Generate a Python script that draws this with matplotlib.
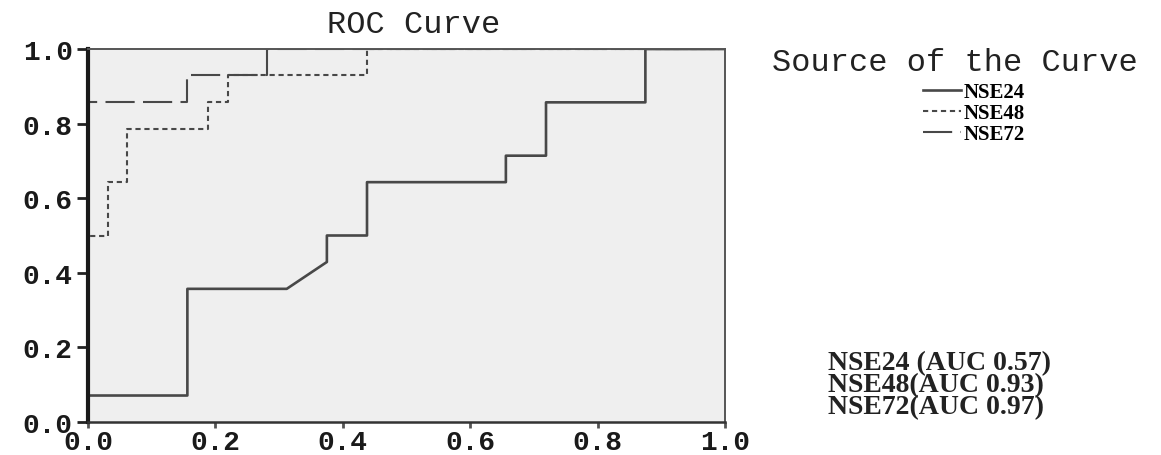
import matplotlib
matplotlib.use('Agg')
import matplotlib.pyplot as plt
from matplotlib.ticker import FormatStrFormatter

# ROC points (1 - specificity, sensitivity)
fpr24 = [0, 0, 0.156, 0.156, 0.312, 0.375, 0.375, 0.438, 0.438, 0.656, 0.656, 0.719, 0.719, 0.875, 0.875, 1.0]
tpr24 = [0, 0.071, 0.071, 0.357, 0.357, 0.429, 0.5, 0.5, 0.643, 0.643, 0.714, 0.714, 0.857, 0.857, 1.0, 1.0]

fpr48 = [0, 0, 0.031, 0.031, 0.062, 0.062, 0.188, 0.188, 0.219, 0.219, 0.438, 0.438, 1.0]
tpr48 = [0, 0.5, 0.5, 0.643, 0.643, 0.786, 0.786, 0.857, 0.857, 0.929, 0.929, 1.0, 1.0]

fpr72 = [0, 0, 0.156, 0.156, 0.281, 0.281, 1.0]
tpr72 = [0, 0.857, 0.857, 0.929, 0.929, 1.0, 1.0]

names = ['NSE24', 'NSE48', 'NSE72']
auc_labels = ['NSE24 (AUC 0.57)', 'NSE48(AUC 0.93)', 'NSE72(AUC 0.97)']
ticks = [0.0, 0.2, 0.4, 0.6, 0.8, 1.0]

W, H = 1161, 456
fig = plt.figure(figsize=(W / 100, H / 100), dpi=100)
ax = fig.add_axes([88 / W, 33 / H, 637 / W, 373 / H])
ax.set_facecolor('#efefef')

line_col = '#484848'
ax.plot(fpr24, tpr24, color=line_col, lw=1.9, label=names[0])
ax.plot(fpr48, tpr48, color=line_col, lw=1.5, linestyle=(0, (2.5, 1.8)), label=names[1])
ax.plot(fpr72, tpr72, color=line_col, lw=1.5, linestyle=(0, (14, 4)), label=names[2])

ax.set_xlim(0, 1)
ax.set_ylim(0, 1)
ax.set_xticks(ticks)
ax.set_yticks(ticks)
ax.xaxis.set_major_formatter(FormatStrFormatter('%.1f'))
ax.yaxis.set_major_formatter(FormatStrFormatter('%.1f'))

for lab in ax.get_xticklabels() + ax.get_yticklabels():
    lab.set_fontfamily('Liberation Mono')
    lab.set_fontweight('bold')
    lab.set_fontsize(20)
    lab.set_color('#1a1a1a')

ax.tick_params(axis='y', length=8, width=2, color='#222222', pad=3)
ax.tick_params(axis='x', length=4, width=2, color='#555555', pad=1)

ax.spines['left'].set_linewidth(3)
ax.spines['left'].set_color('#1a1a1a')
ax.spines['bottom'].set_linewidth(1.8)
ax.spines['bottom'].set_color('#333333')
for s in ['top', 'right']:
    ax.spines[s].set_linewidth(1.4)
    ax.spines[s].set_color('#555555')

# title
fig.text(414 / W, 1 - 33 / H, 'ROC Curve', ha='center', va='baseline',
         fontfamily='Liberation Mono', fontsize=23, color='#222222')

# legend block on the right
fig.text(955 / W, 1 - 71 / H, 'Source of the Curve', ha='center', va='baseline',
         fontfamily='Liberation Mono', fontsize=23, color='#222222')
ax.legend(loc='center left', bbox_to_anchor=(923 / W, 1 - 114 / H),
          bbox_transform=fig.transFigure, frameon=False,
          prop={'family': 'Liberation Serif', 'weight': 'bold', 'size': 15},
          handlelength=1.8, handletextpad=0.15, labelspacing=0.05,
          borderpad=0, borderaxespad=0)

# AUC block, one text with tight line spacing
fig.text(828 / W, 1 - 414 / H, '\n'.join(auc_labels), ha='left', va='baseline',
         multialignment='left', linespacing=0.85,
         fontfamily='Liberation Serif', fontweight='bold', fontsize=20,
         color='#222222')

fig.savefig('out.png', dpi=100, facecolor='white')
